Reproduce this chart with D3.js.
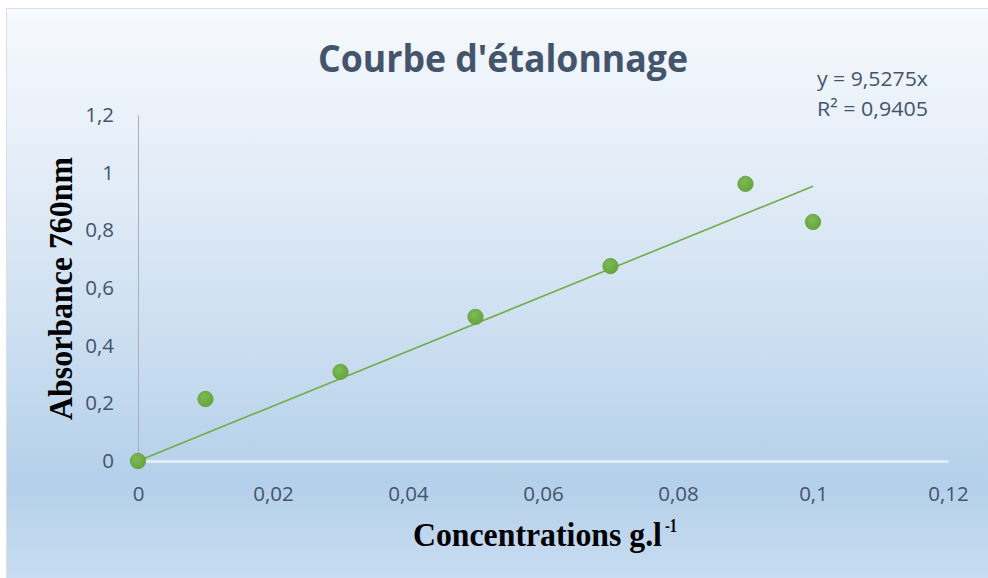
<!DOCTYPE html>
<html><head><meta charset="utf-8">
<script src="https://cdn.jsdelivr.net/npm/d3@7/dist/d3.min.js"></script>
<style>body{margin:0;background:#fff}svg{display:block}</style>
</head><body>
<script>
const concentrations = [0, 0.01, 0.03, 0.05, 0.07, 0.09, 0.1];
const absorbances = [0, 0.215, 0.309, 0.5, 0.676, 0.961, 0.829];
const slope = 9.5275;
const xTicks = [0, 0.02, 0.04, 0.06, 0.08, 0.1, 0.12];
const yTicks = [0, 0.2, 0.4, 0.6, 0.8, 1, 1.2];
const title = "Courbe d'étalonnage";
const eqLines = ["y = 9,5275x", "R² = 0,9405"];

const W = 988, H = 578;
const svg = d3.select("body").append("svg").attr("width", W).attr("height", H);
const defs = svg.append("defs");
const g = defs.append("linearGradient").attr("id","bg").attr("x1",0).attr("y1",0).attr("x2",0).attr("y2",1);
[[0,"#f6f9fd"],[0.3,"#e2ecf7"],[0.6,"#c9ddf0"],[0.82,"#b4d0ea"],[1,"#c9ddf1"]].forEach(([o,c])=>g.append("stop").attr("offset",o).attr("stop-color",c));
const rg = defs.append("radialGradient").attr("id","pt").attr("cx","40%").attr("cy","35%").attr("r","65%");
rg.append("stop").attr("offset",0).attr("stop-color","#7cba52");
rg.append("stop").attr("offset",1).attr("stop-color","#68a540");

svg.append("rect").attr("x",6.5).attr("y",8.5).attr("width",W).attr("height",H).attr("fill","url(#bg)").attr("stroke","#dcdfe3").attr("stroke-width",1);

const x = d3.scaleLinear().domain([0,0.12]).range([138,948]);
const y = d3.scaleLinear().domain([0,1.2]).range([461,115]);
const fmt = d => d3.format("")(+d.toFixed(2)).replace(".", ",");
const tickFont = "'Open Sans',sans-serif";
const serif = "'Liberation Serif','Times New Roman',serif";

// y axis
const ya = svg.append("g").attr("transform","translate(138,0)")
  .call(d3.axisLeft(y).tickValues(yTicks).tickSize(0).tickPadding(24).tickFormat(fmt));
ya.select(".domain").attr("stroke","#a9b0bb").attr("stroke-width",1);
ya.selectAll("text").attr("fill","#44546a").style("font-family",tickFont).style("font-size","20.5px");

// x axis
const xa = svg.append("g").attr("transform","translate(0,461)")
  .call(d3.axisBottom(x).tickValues(xTicks).tickSize(0).tickPadding(25).tickFormat(fmt));
xa.select(".domain").attr("stroke","#e9eff6").attr("stroke-width",2.5);
xa.selectAll("text").attr("fill","#44546a").style("font-family",tickFont).style("font-size","20.5px");

// trendline
svg.append("line").attr("x1",x(0)).attr("y1",y(0)).attr("x2",x(0.1)).attr("y2",y(slope*0.1))
  .attr("stroke","#70ad47").attr("stroke-width",1.6);

// points
svg.append("g").selectAll("circle").data(concentrations).join("circle")
  .attr("cx",d=>x(d)).attr("cy",(d,i)=>y(absorbances[i])).attr("r",7.7)
  .attr("fill","url(#pt)").attr("stroke","#64a03c").attr("stroke-width",0.8);

// helper: text squeezed horizontally to a target width via transform
function fitText(parent, str, tx, ty, size, target, anchor, rot) {
  const t = parent.append("text").style("font-size", size + "px").attr("text-anchor", anchor || "start").text(str);
  const w = t.node().getComputedTextLength();
  const s = target / w;
  t.attr("transform", `translate(${tx},${ty})${rot ? " rotate(" + rot + ")" : ""} scale(${s},1)`);
  return t;
}

// title
const tg = svg.append("g").style("font-family",tickFont).style("font-weight","700").attr("fill","#44546a");
fitText(tg, title, 503, 72, 37, 370, "middle");

// equation
const eg = svg.append("g").style("font-family",tickFont).attr("fill","#44546a");
eqLines.forEach((d,i)=> fitText(eg, d, 817, 86 + i*29.5, 20.5, 111, "start"));

// x axis title
const xtG = svg.append("g").style("font-family",serif).style("font-weight","700").attr("fill","#000");
fitText(xtG, "Concentrations g.l", 413, 546, 34, 249, "start");
fitText(xtG, "-1", 665, 532, 19, 12, "start");

// y axis title
const ytG = svg.append("g").style("font-family",serif).style("font-weight","700").attr("fill","#000");
fitText(ytG, "Absorbance 760nm", 72, 288.5, 34, 263, "middle", -90);
</script>
</body></html>
